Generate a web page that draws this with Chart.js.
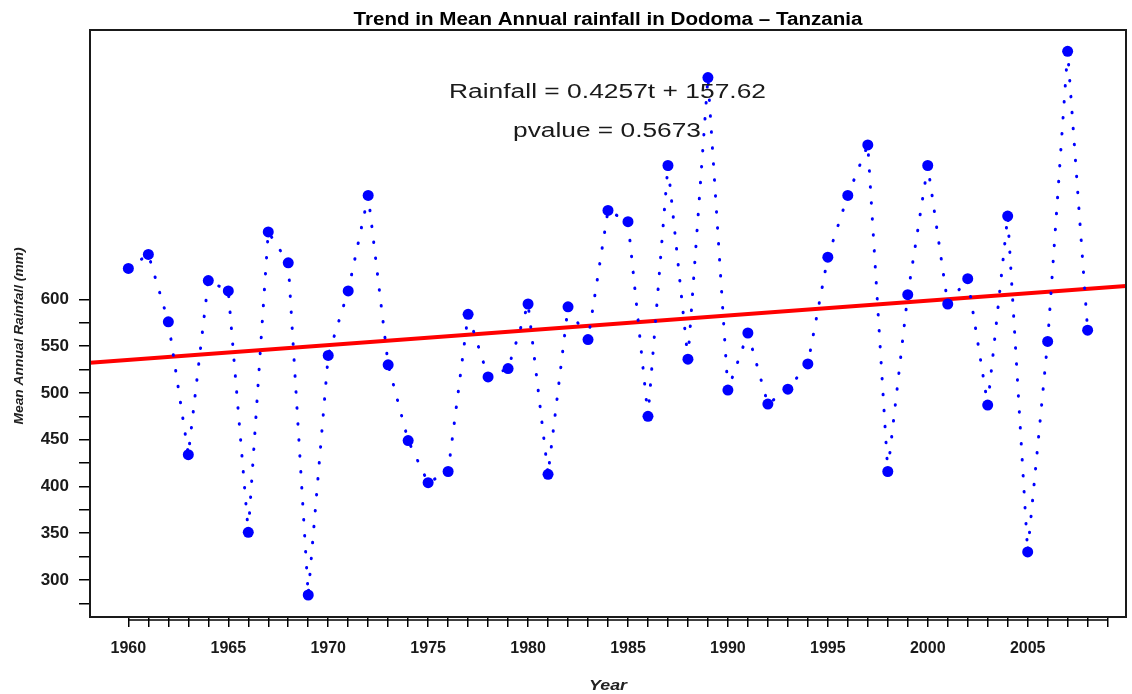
<!DOCTYPE html>
<html>
<head>
<meta charset="utf-8">
<script src="https://cdn.jsdelivr.net/npm/chart.js@4.4.1/dist/chart.umd.min.js"></script>
<style>
html,body{margin:0;padding:0;background:#ffffff;}
#wrap{width:1132px;height:694px;position:relative;}
</style>
</head>
<body>
<div id="wrap"><canvas id="c" width="1132" height="694"></canvas></div>
<script>
// ---- Data ----
const years = [1960,1961,1962,1963,1964,1965,1966,1967,1968,1969,
               1970,1971,1972,1973,1974,1975,1976,1977,1978,1979,
               1980,1981,1982,1983,1984,1985,1986,1987,1988,1989,
               1990,1991,1992,1993,1994,1995,1996,1997,1998,1999,
               2000,2001,2002,2003,2004,2005,2006,2007,2008];
const rainfall = [633,648,576,434,620,609,351,672,639,284,
                  540,609,711,530,449,404,416,584,517,526,
                  595,413,592,557,695,683,475,743,536,837,
                  503,564,488,504,531,645,711,765,416,605,
                  743,595,622,487,689,330,555,865,567];
const trendYears = [1958.08, 2009.92];
const trendValues = [532.2, 614.2];
const yTickValues = [275,300,325,350,375,400,425,450,475,500,525,550,575,600];
const yLabelValues = [300,350,400,450,500,550,600];
const xTickYears = [1960,1961,1962,1963,1964,1965,1966,1967,1968,1969,
                    1970,1971,1972,1973,1974,1975,1976,1977,1978,1979,
                    1980,1981,1982,1983,1984,1985,1986,1987,1988,1989,
                    1990,1991,1992,1993,1994,1995,1996,1997,1998,1999,
                    2000,2001,2002,2003,2004,2005,2006,2007,2008,2009];
const xLabelYears = [1960,1965,1970,1975,1980,1985,1990,1995,2000,2005];
const titleText = 'Trend in Mean Annual rainfall in Dodoma \u2013 Tanzania';
const xTitleText = 'Year';
const yTitleText = 'Mean Annual Rainfall (mm)';
const equationText = 'Rainfall = 0.4257t + 157.62';
const pvalueText = 'pvalue = 0.5673';

const FONT = '"Liberation Sans", Arial, Helvetica, sans-serif';

function drawFitted(ctx, text, cx, cy, font, targetW, rot) {
  ctx.save();
  ctx.font = font;
  const w = ctx.measureText(text).width;
  const s = targetW / w;
  ctx.translate(cx, cy);
  if (rot) ctx.rotate(rot);
  ctx.scale(s, 1);
  ctx.textAlign = 'center';
  ctx.textBaseline = 'alphabetic';
  ctx.fillText(text, 0, 0);
  ctx.restore();
}

const decor = {
  id: 'decor',
  afterDraw(chart) {
    const ctx = chart.ctx;
    const a = chart.chartArea;
    const xs = chart.scales.x;
    ctx.save();
    // box
    ctx.strokeStyle = '#1a1a1a';
    ctx.lineWidth = 2;
    ctx.strokeRect(a.left, a.top, a.right - a.left, a.bottom - a.top);
    // x axis line under ticks
    ctx.lineWidth = 1.5;
    ctx.strokeStyle = '#000';
    ctx.beginPath();
    ctx.moveTo(xs.getPixelForValue(xTickYears[0]), a.bottom + 3);
    ctx.lineTo(xs.getPixelForValue(xTickYears[xTickYears.length - 1]), a.bottom + 3);
    ctx.stroke();
    // texts
    const cx = (a.left + a.right) / 2;
    ctx.fillStyle = '#000';
    drawFitted(ctx, titleText, cx, 24.5, 'bold 18px ' + FONT, 509);
    ctx.fillStyle = '#222';
    drawFitted(ctx, xTitleText, cx, 690, 'italic bold 15px ' + FONT, 38);
    drawFitted(ctx, yTitleText, 23, 336, 'italic bold 13px ' + FONT, 177, -Math.PI / 2);
    ctx.fillStyle = '#1a1a1a';
    drawFitted(ctx, equationText, 607.5, 97.5, '20px ' + FONT, 317);
    drawFitted(ctx, pvalueText, 607, 137, '20px ' + FONT, 188);
    ctx.restore();
  }
};

const ctx = document.getElementById('c').getContext('2d');
new Chart(ctx, {
  type: 'line',
  data: {
    datasets: [
      {
        label: 'Rainfall',
        data: years.map((y, i) => ({ x: y, y: rainfall[i] })),
        borderColor: '#0000ff',
        backgroundColor: '#0000ff',
        borderWidth: 3,
        borderDash: [0.5, 15.5],
        borderCapStyle: 'round',
        pointRadius: 5.5,
        pointBackgroundColor: '#0000ff',
        pointBorderWidth: 0,
        tension: 0,
        fill: false,
        order: 0
      },
      {
        label: 'Trend',
        data: trendYears.map((y, i) => ({ x: y, y: trendValues[i] })),
        borderColor: '#ff0000',
        borderWidth: 4,
        pointRadius: 0,
        tension: 0,
        fill: false,
        order: 1
      }
    ]
  },
  options: {
    responsive: false,
    animation: false,
    layout: { padding: { top: 30, right: 6, left: 0, bottom: 0 } },
    plugins: { legend: { display: false }, tooltip: { enabled: false }, title: { display: false } },
    scales: {
      x: {
        type: 'linear',
        min: 1958.08,
        max: 2009.92,
        afterBuildTicks: (s) => { s.ticks = xTickYears.map(v => ({ value: v })); },
        afterFit: (s) => { s.height = 77; },
        ticks: {
          autoSkip: false,
          maxRotation: 0,
          minRotation: 0,
          padding: 12,
          color: '#1a1a1a',
          font: { family: FONT, size: 16, weight: 'bold' },
          callback: (v) => xLabelYears.includes(v) ? String(v) : ''
        },
        grid: { drawOnChartArea: false, drawTicks: true, tickLength: 10, color: '#000', lineWidth: 1.5 },
        border: { display: false }
      },
      y: {
        type: 'linear',
        min: 260.5,
        max: 887.8,
        afterBuildTicks: (s) => { s.ticks = yTickValues.map(v => ({ value: v })); },
        afterFit: (s) => { s.width = 90; },
        ticks: {
          autoSkip: false,
          padding: 10,
          color: '#1a1a1a',
          font: { family: FONT, size: 17, weight: 'bold' },
          callback: (v) => yLabelValues.includes(v) ? String(v) : ''
        },
        grid: { drawOnChartArea: false, drawTicks: true, tickLength: 11, color: '#000', lineWidth: 1.5 },
        border: { display: false }
      }
    }
  },
  plugins: [decor]
});
</script>
</body>
</html>
